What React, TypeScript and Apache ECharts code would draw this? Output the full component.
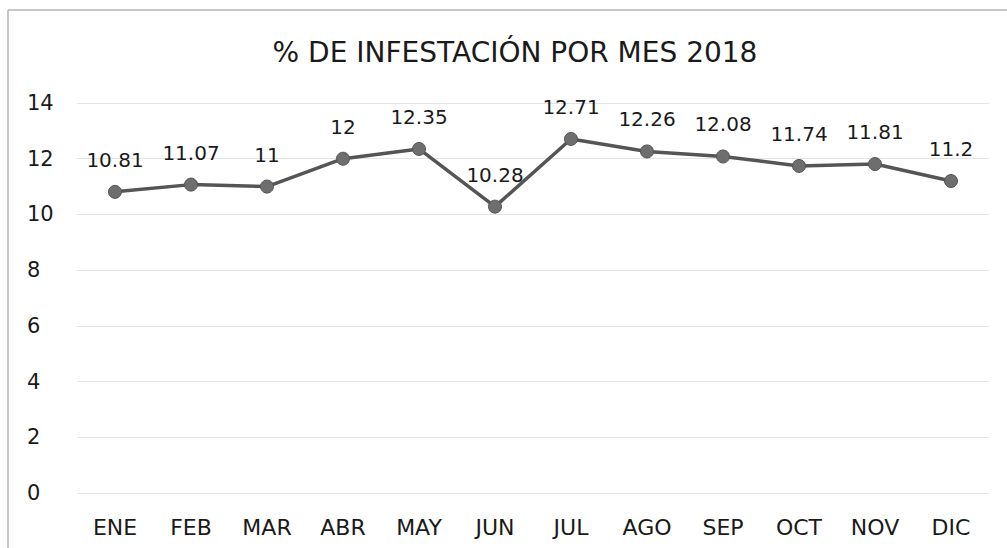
import React, { useEffect, useRef } from "react";
import * as echarts from "echarts";

const TITLE = "% DE INFESTACIÓN POR MES 2018";
const months = ["ENE", "FEB", "MAR", "ABR", "MAY", "JUN", "JUL", "AGO", "SEP", "OCT", "NOV", "DIC"];
const infestation = [10.81, 11.07, 11, 12, 12.35, 10.28, 12.71, 12.26, 12.08, 11.74, 11.81, 11.2];
const yMin = 0;
const yMax = 14;
const yStep = 2;

const FONT = "'DejaVu Sans', 'Noto Sans', sans-serif";

export default function App() {
  const ref = useRef<HTMLDivElement>(null);
  useEffect(() => {
    if (!ref.current) return;
    const chart = echarts.init(ref.current, undefined, { renderer: "svg" });
    chart.setOption({
      animation: false,
      backgroundColor: "#ffffff",
      title: {
        text: TITLE,
        left: 510,
        textAlign: "center",
        top: 33,
        textStyle: { fontFamily: FONT, fontSize: 28, fontWeight: "normal", color: "#1a1a1a" },
      },
      graphic: [
        { type: "line", shape: { x1: 8, y1: 10, x2: 1007, y2: 10 }, style: { stroke: "#b5b5b5", lineWidth: 1.5 } },
        { type: "line", shape: { x1: 8, y1: 10, x2: 8, y2: 548 }, style: { stroke: "#b5b5b5", lineWidth: 1.5 } },
      ],
      grid: { left: 77, right: 18, top: 103, bottom: 55 },
      xAxis: {
        type: "category",
        data: months,
        boundaryGap: true,
        axisLine: { show: false },
        axisTick: { show: false },
        axisLabel: { fontFamily: FONT, fontSize: 22, color: "#1a1a1a", margin: 23 },
      },
      yAxis: {
        type: "value",
        min: yMin,
        max: yMax,
        interval: yStep,
        axisLine: { show: false },
        axisTick: { show: false },
        splitLine: { lineStyle: { color: "#e4e4e4", width: 1 } },
        axisLabel: { fontFamily: FONT, fontSize: 21, color: "#1a1a1a", margin: 50, align: "left" },
      },
      series: [
        {
          type: "line",
          data: infestation,
          symbol: "circle",
          symbolSize: 13,
          lineStyle: { color: "#555555", width: 3.5 },
          itemStyle: { color: "#6e6e6e", borderColor: "#555555", borderWidth: 1 },
          label: {
            show: true,
            position: "top",
            distance: 15,
            fontFamily: FONT,
            fontSize: 20,
            color: "#1a1a1a",
          },
        },
      ],
    });
    return () => chart.dispose();
  }, []);
  return <div ref={ref} style={{ position: "absolute", left: 0, top: 0, width: 1007, height: 548 }} />;
}
